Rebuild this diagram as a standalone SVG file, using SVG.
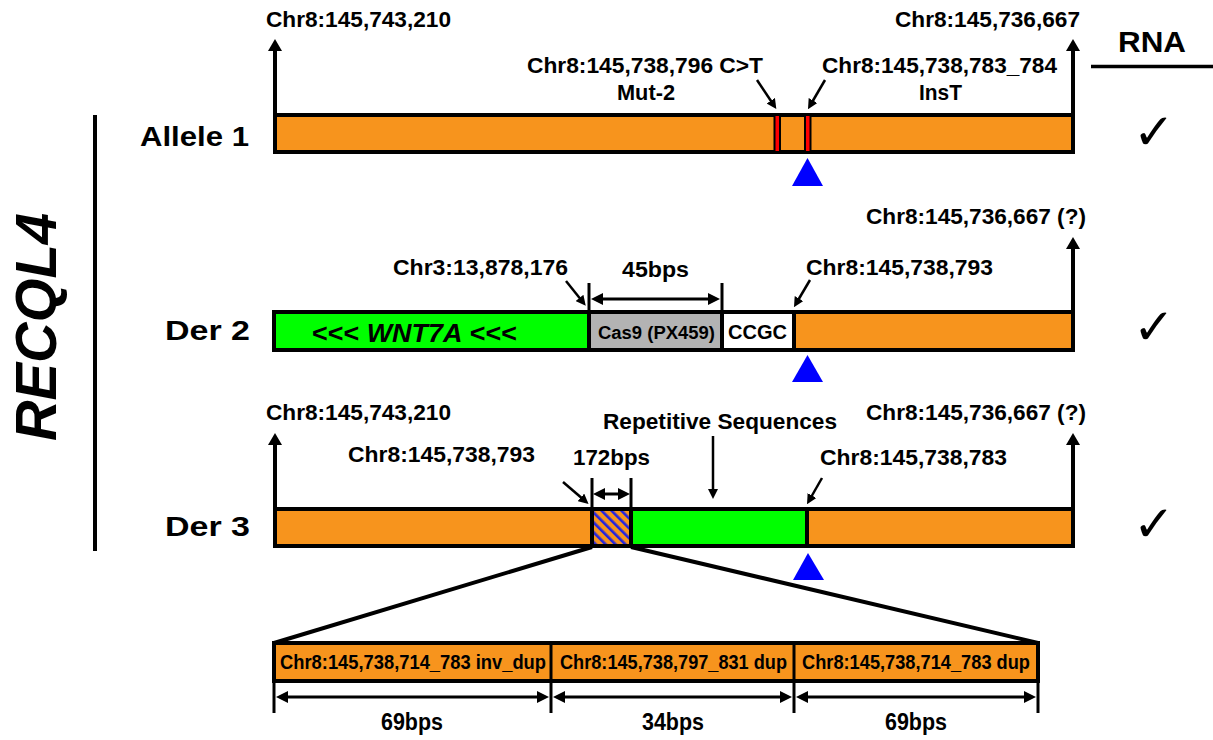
<svg xmlns="http://www.w3.org/2000/svg" width="1213" height="740" viewBox="0 0 1213 740">
<defs>
<style>
text{font-family:"Liberation Sans",Arial,Helvetica,sans-serif;font-weight:bold;fill:#000}
.t{font-size:22px}
.lab{font-size:27px}
.bar{stroke:#000;stroke-width:4}
.or{fill:#F7941D}
.gr{fill:#00FF00}
.ln{stroke:#000;fill:none}
.ck{font-family:"DejaVu Sans",sans-serif;font-weight:normal;font-size:50px}
.tri{fill:#0000FF}
</style>
<marker id="big" viewBox="0 0 12 14" refX="5" refY="7" markerWidth="12" markerHeight="14" markerUnits="userSpaceOnUse" orient="auto-start-reverse"><path d="M0,0 L12,7 L0,14 z"/></marker>
<marker id="sm" viewBox="0 0 10 10" refX="4" refY="5" markerWidth="10" markerHeight="10" markerUnits="userSpaceOnUse" orient="auto-start-reverse"><path d="M0,0 L10,5 L0,10 z"/></marker>
<marker id="dbl" viewBox="0 0 12 12" refX="5" refY="6" markerWidth="12" markerHeight="12" markerUnits="userSpaceOnUse" orient="auto-start-reverse"><path d="M0,0 L12,6 L0,12 z"/></marker>
<pattern id="hatch" patternUnits="userSpaceOnUse" width="7" height="7" patternTransform="rotate(-45)"><rect width="7" height="7" fill="#F7941D"/><rect width="2.6" height="7" fill="#2323E0"/></pattern>
</defs>

<g id="title">
<text transform="translate(56,327) rotate(-90)" text-anchor="middle" font-size="57" font-style="italic" textLength="228" lengthAdjust="spacingAndGlyphs">RECQL4</text>
<line class="ln" x1="95" y1="115" x2="95" y2="551" stroke-width="4"/>
</g>

<g id="rna-header">
<text x="1118" y="52" font-size="30" textLength="68" lengthAdjust="spacingAndGlyphs">RNA</text>
<line class="ln" x1="1091" y1="66.5" x2="1213" y2="66.5" stroke-width="3.5"/>
</g>

<g id="allele1">
<text class="lab" x="140" y="146" textLength="109" lengthAdjust="spacingAndGlyphs">Allele 1</text>
<rect class="bar or" x="275" y="115" width="798" height="37"/>
<rect x="774.5" y="115" width="5.5" height="37" fill="#FF0000" stroke="#000" stroke-width="2"/>
<rect x="805" y="115" width="5.5" height="37" fill="#FF0000" stroke="#000" stroke-width="2"/>
<polygon class="tri" points="807.5,158 792,186 823,186"/>
<text class="t" x="266" y="27" textLength="185" lengthAdjust="spacingAndGlyphs">Chr8:145,743,210</text>
<text class="t" x="895" y="27" textLength="185" lengthAdjust="spacingAndGlyphs">Chr8:145,736,667</text>
<text class="t" x="527" y="73" textLength="236" lengthAdjust="spacingAndGlyphs">Chr8:145,738,796 C&gt;T</text>
<text class="t" x="617" y="100" textLength="58" lengthAdjust="spacingAndGlyphs">Mut-2</text>
<text class="t" x="822" y="73" textLength="235" lengthAdjust="spacingAndGlyphs">Chr8:145,738,783_784</text>
<text class="t" x="919" y="100" textLength="43" lengthAdjust="spacingAndGlyphs">InsT</text>
<text class="ck" x="1133" y="149">✓</text>
</g>

<g id="der2">
<text class="lab" x="165" y="340" textLength="85" lengthAdjust="spacingAndGlyphs">Der 2</text>
<rect class="bar gr" x="274" y="312" width="315" height="38"/>
<rect class="bar" x="589" y="312" width="133" height="38" fill="#B3B3B3"/>
<rect class="bar" x="722" y="312" width="72" height="38" fill="#FFFFFF"/>
<rect class="bar or" x="794" y="312" width="279" height="38"/>
<text x="312" y="342" font-size="25" textLength="205" lengthAdjust="spacingAndGlyphs">&lt;&lt;&lt; <tspan font-style="italic">WNT7A</tspan> &lt;&lt;&lt;</text>
<text x="598" y="339" font-size="18" textLength="117" lengthAdjust="spacingAndGlyphs">Cas9 (PX459)</text>
<text x="728" y="339" font-size="21" textLength="59" lengthAdjust="spacingAndGlyphs">CCGC</text>
<polygon class="tri" points="807.5,355 792,382 823,382"/>
<text class="t" x="866" y="224" textLength="220" lengthAdjust="spacingAndGlyphs">Chr8:145,736,667 (?)</text>
<text class="t" x="393" y="275" textLength="175" lengthAdjust="spacingAndGlyphs">Chr3:13,878,176</text>
<text class="t" x="622" y="277" textLength="67" lengthAdjust="spacingAndGlyphs">45bps</text>
<text class="t" x="806" y="275" textLength="187" lengthAdjust="spacingAndGlyphs">Chr8:145,738,793</text>
<text class="ck" x="1133" y="344">✓</text>
</g>

<g id="der3">
<text class="lab" x="165" y="536" textLength="85" lengthAdjust="spacingAndGlyphs">Der 3</text>
<rect class="bar or" x="275" y="509" width="317" height="37"/>
<rect class="bar" x="592" y="509" width="39" height="37" fill="url(#hatch)"/>
<rect class="bar gr" x="631" y="509" width="176" height="37"/>
<rect class="bar or" x="807" y="509" width="266" height="37"/>
<polygon class="tri" points="808,553 793,580 824,580"/>
<text class="t" x="266" y="420" textLength="185" lengthAdjust="spacingAndGlyphs">Chr8:145,743,210</text>
<text class="t" x="866" y="420" textLength="220" lengthAdjust="spacingAndGlyphs">Chr8:145,736,667 (?)</text>
<text class="t" x="603" y="429" textLength="234" lengthAdjust="spacingAndGlyphs">Repetitive Sequences</text>
<text class="t" x="348" y="462" textLength="187" lengthAdjust="spacingAndGlyphs">Chr8:145,738,793</text>
<text class="t" x="573" y="465" textLength="77" lengthAdjust="spacingAndGlyphs">172bps</text>
<text class="t" x="820" y="465" textLength="187" lengthAdjust="spacingAndGlyphs">Chr8:145,738,783</text>
<text class="ck" x="1133" y="541">✓</text>
</g>

<g id="detail">
<rect class="bar or" x="274" y="643" width="764" height="38"/>
<line class="ln" x1="551" y1="643" x2="551" y2="681" stroke-width="3"/>
<line class="ln" x1="794" y1="643" x2="794" y2="681" stroke-width="3"/>
<text x="280" y="669" font-size="20" textLength="266" lengthAdjust="spacingAndGlyphs">Chr8:145,738,714_783 inv_dup</text>
<text x="560" y="669" font-size="20" textLength="227" lengthAdjust="spacingAndGlyphs">Chr8:145,738,797_831 dup</text>
<text x="802" y="669" font-size="20" textLength="228" lengthAdjust="spacingAndGlyphs">Chr8:145,738,714_783 dup</text>
<text x="412" y="730" font-size="23" text-anchor="middle" textLength="62" lengthAdjust="spacingAndGlyphs">69bps</text>
<text x="673" y="730" font-size="23" text-anchor="middle" textLength="62" lengthAdjust="spacingAndGlyphs">34bps</text>
<text x="916" y="730" font-size="23" text-anchor="middle" textLength="62" lengthAdjust="spacingAndGlyphs">69bps</text>
</g>

<g id="connectors">
<line class="ln" x1="275" y1="115" x2="275" y2="46" stroke-width="4" marker-end="url(#big)"/>
<line class="ln" x1="1073" y1="115" x2="1073" y2="46" stroke-width="4" marker-end="url(#big)"/>
<line class="ln" x1="757" y1="80" x2="773" y2="104" stroke-width="2.5" marker-end="url(#sm)"/>
<line class="ln" x1="825" y1="80" x2="811" y2="104" stroke-width="2.5" marker-end="url(#sm)"/>
<line class="ln" x1="1073" y1="312" x2="1073" y2="244" stroke-width="4" marker-end="url(#big)"/>
<line class="ln" x1="589" y1="312" x2="589" y2="283" stroke-width="3"/>
<line class="ln" x1="722" y1="312" x2="722" y2="283" stroke-width="3"/>
<line class="ln" x1="598" y1="299" x2="713" y2="299" stroke-width="3" marker-start="url(#dbl)" marker-end="url(#dbl)"/>
<line class="ln" x1="566" y1="281" x2="582" y2="301" stroke-width="2.5" marker-end="url(#sm)"/>
<line class="ln" x1="810" y1="280" x2="797" y2="302" stroke-width="2.5" marker-end="url(#sm)"/>
<line class="ln" x1="275" y1="509" x2="275" y2="440" stroke-width="4" marker-end="url(#big)"/>
<line class="ln" x1="1073" y1="509" x2="1073" y2="440" stroke-width="4" marker-end="url(#big)"/>
<line class="ln" x1="592" y1="509" x2="592" y2="478" stroke-width="3"/>
<line class="ln" x1="631" y1="509" x2="631" y2="478" stroke-width="3"/>
<line class="ln" x1="600" y1="494" x2="623" y2="494" stroke-width="3" marker-start="url(#dbl)" marker-end="url(#dbl)"/>
<line class="ln" x1="713" y1="436" x2="713" y2="493" stroke-width="2.5" marker-end="url(#sm)"/>
<line class="ln" x1="563" y1="482" x2="584" y2="500" stroke-width="2.5" marker-end="url(#sm)"/>
<line class="ln" x1="822" y1="478" x2="810" y2="499" stroke-width="2.5" marker-end="url(#sm)"/>
<line class="ln" x1="592" y1="547" x2="274" y2="643" stroke-width="4"/>
<line class="ln" x1="631" y1="547" x2="1038" y2="643" stroke-width="4"/>
<line class="ln" x1="274" y1="681" x2="274" y2="713" stroke-width="3"/>
<line class="ln" x1="551" y1="681" x2="551" y2="713" stroke-width="3"/>
<line class="ln" x1="794" y1="681" x2="794" y2="713" stroke-width="3"/>
<line class="ln" x1="1038" y1="681" x2="1038" y2="713" stroke-width="3"/>
<line class="ln" x1="283" y1="697" x2="542" y2="697" stroke-width="3" marker-start="url(#dbl)" marker-end="url(#dbl)"/>
<line class="ln" x1="560" y1="697" x2="785" y2="697" stroke-width="3" marker-start="url(#dbl)" marker-end="url(#dbl)"/>
<line class="ln" x1="803" y1="697" x2="1029" y2="697" stroke-width="3" marker-start="url(#dbl)" marker-end="url(#dbl)"/>
</g>
</svg>
